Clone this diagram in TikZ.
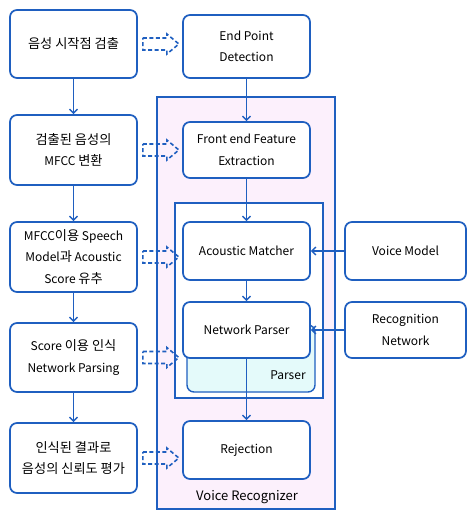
\documentclass[tikz,border=0pt]{standalone}
\usepackage{fontspec}
\setmainfont{Noto Sans CJK KR}
\newfontfamily\krf{Noto Sans CJK KR}[Scale=1.1]
\usetikzlibrary{arrows.meta,calc}
\definecolor{bl}{HTML}{1F5FC0}
\definecolor{pinkf}{HTML}{FCF0FC}
\definecolor{cyanf}{HTML}{E4FAFA}
\tikzset{
  box/.style={draw=bl, line width=1.7pt, rounded corners=7pt, fill=white, align=center,
    inner sep=0pt, font=\fontsize{12}{21.5}\selectfont},
  conn/.style={draw=bl, line width=1.4pt, -{Straight Barb[length=4pt,width=8pt,line width=1.4pt]}},
  blk/.style={draw=bl, line width=1.6pt, dash pattern=on 4pt off 2.5pt, line join=miter},
}
\begin{document}
\begin{tikzpicture}[x=1pt,y=-1pt]
\useasboundingbox (0,0) rectangle (467,511);
% containers
\draw[bl, line width=1.4pt, fill=pinkf] (157,97) rectangle (335,509);
\node[font=\fontsize{13}{15}\selectfont, anchor=center] (vr) at (247,497) {Voice Recognizer};
\draw[bl, line width=1.4pt, fill=white] (175,203) rectangle (323,398);
\draw[bl, line width=1.4pt, fill=cyanf, rounded corners=7pt] (187,325) rectangle (315,392);
\node[font=\fontsize{12}{14}\selectfont] (parser) at (288,375) {Parser};
% left column
\node[box, minimum width=127pt, minimum height=68pt] (L1) at (73.5,44) {{\krf 음성 시작점 검출}};
\node[box, minimum width=127pt, minimum height=70pt] (L2) at (73.5,150) {{\krf 검출된 음성의}\\MFCC {\krf 변환}};
\node[box, minimum width=127pt, minimum height=70pt] (L3) at (73.5,257) {MFCC{\krf 이용} Speech\\Model{\krf 과} Acoustic\\Score {\krf 유추}};
\node[box, minimum width=127pt, minimum height=69pt] (L4) at (73.5,357.5) {Score {\krf 이용 인식}\\Network Parsing};
\node[box, minimum width=127pt, minimum height=70pt] (L5) at (73.5,458) {{\krf 인식된 결과로}\\{\krf 음성의 신뢰도 평가}};
% middle column
\node[box, minimum width=127pt, minimum height=63pt] (R1) at (246.5,46.5) {End Point\\Detection};
\node[box, minimum width=127pt, minimum height=56pt] (R2) at (246.5,150) {Front end Feature\\Extraction};
\node[box, minimum width=127pt, minimum height=58pt] (R3) at (246.5,251) {Acoustic Matcher};
\node[box, minimum width=127pt, minimum height=56pt] (R4) at (246.5,330) {Network Parser};
\node[box, minimum width=127pt, minimum height=58pt] (R5) at (246.5,450) {Rejection};
% right column
\node[box, minimum width=121pt, minimum height=58pt] (VM) at (405.5,251) {Voice Model};
\node[box, minimum width=121pt, minimum height=56pt] (RN) at (405.5,330) {Recognition\\Network};
% connectors
\draw[conn] (L1) -- (L2);
\draw[conn] (L2) -- (L3);
\draw[conn] (L3) -- (L4);
\draw[conn] (L4) -- (L5);
\draw[conn] (R1) -- (R2);
\draw[conn] (R2) -- (R3);
\draw[conn] (R3) -- (R4);
\draw[conn] (R4) -- (R5);
\draw[conn] (VM) -- (R3);
\draw[conn] (RN) -- (R4);
% block arrows
\foreach \n in {L1,L2,L3,L4,L5}{
  \draw[blk] ($(\n.east)+(5,-6)$) -- ++(24,0) -- ++(0,-4) -- ++(12,10) -- ++(-12,10) -- ++(0,-4) -- ++(-24,0) -- cycle;
}
\end{tikzpicture}
\end{document}
